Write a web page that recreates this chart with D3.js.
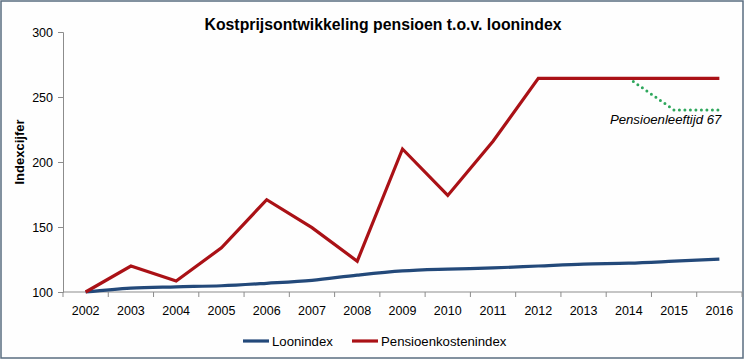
<!DOCTYPE html>
<html>
<head>
<meta charset="utf-8">
<script src="https://cdn.jsdelivr.net/npm/d3@7"></script>
<style>
  html, body { margin: 0; padding: 0; background: #ffffff; }
  svg { display: block; font-family: "Liberation Sans", Arial, sans-serif; }
</style>
</head>
<body>
<svg id="chart" width="746" height="362"></svg>
<script>
const years = ["2002","2003","2004","2005","2006","2007","2008","2009","2010","2011","2012","2013","2014","2015","2016"];
const loonindex = [100, 103, 104, 104.8, 106.7, 109, 113, 116.2, 117.6, 118.5, 120, 121.5, 122.2, 123.7, 125.3];
const pensioenkostenindex = [100, 120, 108.4, 134, 171, 149.5, 123.7, 210, 174.3, 216, 264.3, 264.3, 264.3, 264.3, 264.3];
const pensioen67Years = ["2014","2015","2016"];
const pensioen67 = [264.3, 240, 240];
const yTicks = [100, 150, 200, 250, 300];
const title = "Kostprijsontwikkeling pensioen t.o.v. loonindex";
const yLabel = "Indexcijfer";
const annotation = "Pensioenleeftijd 67";
const seriesNames = ["Loonindex", "Pensioenkostenindex"];

(function () {
const svg = d3.select("#chart");
const W = 746, H = 362;
const mLeft = 63, mRight = 742, mTop = 32, mBottom = 292;

// background + border
svg.append("rect").attr("x", 1).attr("y", 1).attr("width", W - 4).attr("height", H - 5)
  .attr("fill", "#fefefe").attr("stroke", "#5a6d80").attr("stroke-width", 1.5);

const x = d3.scaleBand().domain(years).range([mLeft, mRight]).padding(0);
const y = d3.scaleLinear().domain([100, 300]).range([mBottom, mTop]);
const cx = d => x(d) + x.bandwidth() / 2;

// y axis
const yAxis = svg.append("g").attr("transform", `translate(${mLeft},0)`)
  .call(d3.axisLeft(y).tickValues(yTicks).tickSize(5).tickPadding(5));
yAxis.select(".domain").attr("stroke", "#8c8c8c");
yAxis.selectAll(".tick line").attr("stroke", "#8c8c8c");
yAxis.selectAll(".tick text").attr("font-size", 12.5).attr("fill", "#000")
  .attr("font-family", "Liberation Sans, Arial, sans-serif");

// x axis (labels)
const xAxis = svg.append("g").attr("transform", `translate(0,${mBottom})`)
  .call(d3.axisBottom(x).tickSize(0).tickPadding(14));
xAxis.select(".domain").remove();
xAxis.selectAll(".tick text").attr("font-size", 12.5).attr("fill", "#000")
  .attr("font-family", "Liberation Sans, Arial, sans-serif");
// x axis line and band-edge ticks
svg.append("line").attr("x1", mLeft).attr("x2", mRight).attr("y1", mBottom).attr("y2", mBottom)
  .attr("stroke", "#8c8c8c");
const edges = years.map(d => x(d)).concat([x(years[years.length - 1]) + x.bandwidth()]);
svg.append("g").selectAll("line").data(edges).join("line")
  .attr("x1", d => d).attr("x2", d => d).attr("y1", mBottom).attr("y2", mBottom + 5)
  .attr("stroke", "#8c8c8c");

// lines
svg.append("path")
  .datum(years.map((yr, i) => [yr, loonindex[i]]))
  .attr("d", d3.line().x(d => cx(d[0])).y(d => y(d[1])).curve(d3.curveMonotoneX))
  .attr("fill", "none").attr("stroke", "#23497a").attr("stroke-width", 3.2)
  .attr("stroke-linejoin", "round");
svg.append("path")
  .datum(pensioen67Years.map((yr, i) => [yr, pensioen67[i]]))
  .attr("d", d3.line().x(d => cx(d[0])).y(d => y(d[1])))
  .attr("fill", "none").attr("stroke", "#2ea75c").attr("stroke-width", 3)
  .attr("stroke-linecap", "round").attr("stroke-dasharray", "0 5.5");
svg.append("path")
  .datum(years.map((yr, i) => [yr, pensioenkostenindex[i]]))
  .attr("d", d3.line().x(d => cx(d[0])).y(d => y(d[1])))
  .attr("fill", "none").attr("stroke", "#aa1116").attr("stroke-width", 3.2)
  .attr("stroke-linejoin", "miter");

// annotation
svg.append("text").attr("x", cx("2016") + 2).attr("y", 124).attr("text-anchor", "end")
  .attr("font-size", 13.2).attr("font-style", "italic").attr("fill", "#000").text(annotation);

// title
svg.append("text").attr("x", 383).attr("y", 30).attr("text-anchor", "middle")
  .attr("font-size", 15.8).attr("font-weight", "bold").attr("fill", "#000").text(title);

// y label
svg.append("text").attr("transform", "translate(24,152) rotate(-90)").attr("text-anchor", "middle")
  .attr("font-size", 13).attr("font-weight", "bold").attr("fill", "#000").text(yLabel);

// legend
const legendColors = ["#23497a", "#aa1116"];
const legendX = [243, 352];
const lg = svg.append("g");
seriesNames.forEach((name, i) => {
  lg.append("line").attr("x1", legendX[i]).attr("x2", legendX[i] + 26)
    .attr("y1", 341).attr("y2", 341).attr("stroke", legendColors[i]).attr("stroke-width", 3.2);
  lg.append("text").attr("x", legendX[i] + 29).attr("y", 345.5).attr("font-size", 13.2)
    .attr("fill", "#000").text(name);
});
})();
</script>
</body>
</html>
